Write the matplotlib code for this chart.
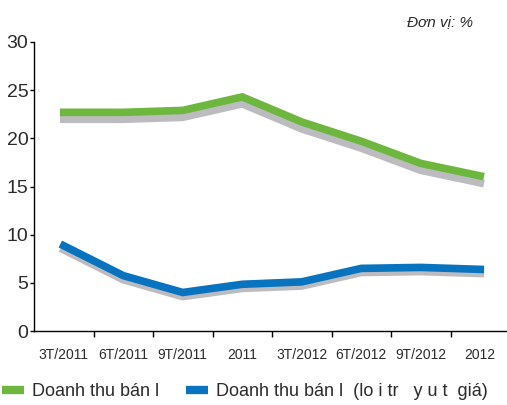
import matplotlib
matplotlib.use("Agg")
import matplotlib.pyplot as plt
import matplotlib.patheffects as pe
from matplotlib.lines import Line2D

# ----------------------------
# Data
# ----------------------------
periods = ["3T/2011", "6T/2011", "9T/2011", "2011",
           "3T/2012", "6T/2012", "9T/2012", "2012"]
retail_nominal = [22.7, 22.7, 22.9, 24.3, 21.7, 19.7, 17.4, 16.1]
retail_real = [8.85, 5.75, 4.0, 4.85, 5.1, 6.5, 6.6, 6.4]
series_labels = ["Doanh thu bán l", "Doanh thu bán l  (lo i tr   y u t  giá)"]
y_ticks = [0, 5, 10, 15, 20, 25, 30]
unit_note = "Đơn vị: %"

# ----------------------------
# Style
# ----------------------------
GREEN = "#6eb73f"
BLUE = "#0873bf"
SHADOW = "#bcbcc0"
TEXT = "#2b2b2b"

plt.rcParams["font.family"] = ["Liberation Sans", "DejaVu Sans"]

fig = plt.figure(figsize=(5.07, 4.05), dpi=100)
ax = fig.add_axes([34 / 507, 74 / 405, 476 / 507, 289 / 405])

x = list(range(len(periods)))


def shadowed(dy):
    return [pe.SimpleLineShadow(offset=(0, -dy), shadow_color=SHADOW, alpha=1.0),
            pe.Normal()]


ax.plot(x, retail_nominal, color=GREEN, lw=5.5, solid_capstyle="projecting",
        solid_joinstyle="miter", path_effects=shadowed(5.0), zorder=3)
ax.plot(x, retail_real, color=BLUE, lw=5.5, solid_capstyle="projecting",
        solid_joinstyle="miter", path_effects=shadowed(3.0), zorder=3)

ax.set_xlim(-0.5, len(periods) - 0.5)
ax.set_ylim(0, 30)

# category labels sit between the boundary ticks
ax.set_xticks(x)
ax.set_xticklabels(periods, fontsize=10, color=TEXT)
ax.tick_params(axis="x", which="major", length=0, pad=12)
ax.set_xticks([i + 0.5 for i in x[:-1]], minor=True)
ax.tick_params(axis="x", which="minor", length=4.5, width=1, color="black")

ax.set_yticks(y_ticks)
ax.set_yticklabels([str(v) for v in y_ticks], fontsize=14, color=TEXT)
ax.tick_params(axis="y", length=3, width=1, pad=1, color="black")

for side in ("top", "right"):
    ax.spines[side].set_visible(False)
for side in ("left", "bottom"):
    ax.spines[side].set_linewidth(1.0)
    ax.spines[side].set_color("black")

fig.text(407 / 507, 1 - 22 / 405, unit_note, fontsize=11, style="italic",
         color=TEXT, va="center", ha="left")

handles = [Line2D([], [], color=GREEN, lw=6, solid_capstyle="butt"),
           Line2D([], [], color=BLUE, lw=6, solid_capstyle="butt")]
fig.legend(handles, series_labels, loc="center left",
           bbox_to_anchor=(2 / 507, 13 / 405), ncol=2, frameon=False,
           fontsize=13, handlelength=1.2, handletextpad=0.45,
           columnspacing=1.5, borderpad=0, borderaxespad=0,
           labelcolor=TEXT)

fig.savefig("out.png", dpi=100)
